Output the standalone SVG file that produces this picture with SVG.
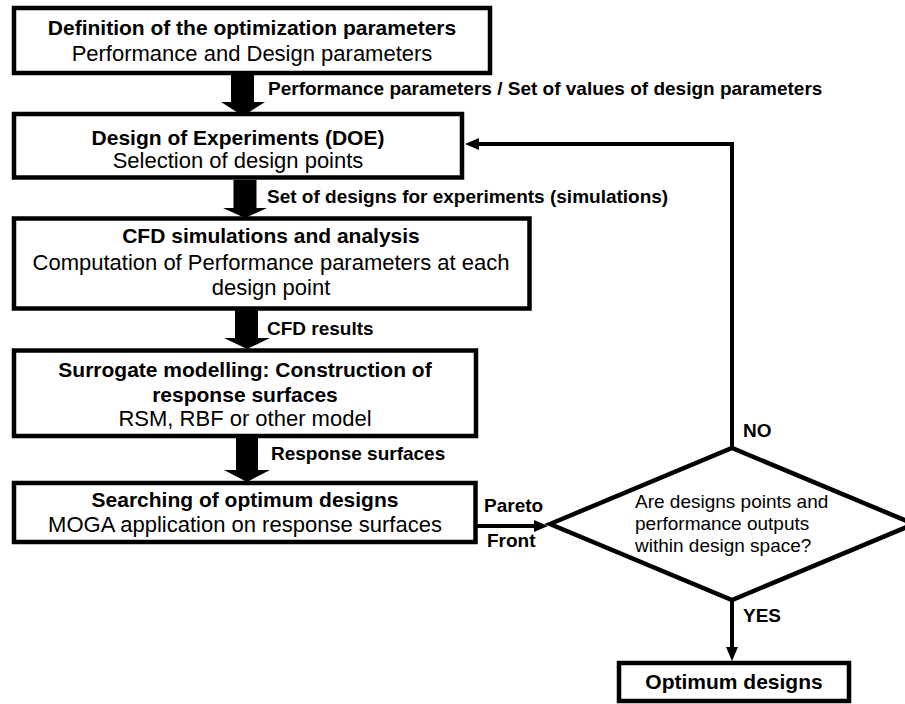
<svg xmlns="http://www.w3.org/2000/svg" width="905" height="704" viewBox="0 0 905 704">
<style>
.box{fill:#fff;stroke:#000;stroke-width:4.5}
.t{font-family:"Liberation Sans",Arial,sans-serif;font-weight:bold;font-size:21px;fill:#000;text-anchor:middle}
.b{font-family:"Liberation Sans",Arial,sans-serif;font-size:22px;fill:#000;text-anchor:middle}
.lbl{font-family:"Liberation Sans",Arial,sans-serif;font-weight:bold;font-size:19px;fill:#000}
.q{font-family:"Liberation Sans",Arial,sans-serif;font-size:19px;fill:#000}
.blk{fill:#000}
.ln{fill:none;stroke:#000;stroke-width:4}
</style>
<defs>
<marker id="ah" markerUnits="userSpaceOnUse" markerWidth="14" markerHeight="12" refX="4" refY="6" orient="auto">
<path d="M0,0 L14,6 L0,12 Z" fill="#000"/>
</marker>
</defs>
<rect width="905" height="704" fill="#fff"/>
<g id="n1">
<rect class="box" x="14" y="8" width="476" height="65"/>
<text class="t" x="252" y="35">Definition of the optimization parameters</text>
<text class="b" x="252" y="61">Performance and Design parameters</text>
</g>
<g id="n2">
<rect class="box" x="14" y="114" width="448" height="63.5"/>
<text class="t" x="238" y="145">Design of Experiments (DOE)</text>
<text class="b" x="238" y="168">Selection of design points</text>
</g>
<g id="n3">
<rect class="box" x="14" y="218.5" width="515.5" height="90"/>
<text class="t" x="271" y="243">CFD simulations and analysis</text>
<text class="b" x="271" y="270">Computation of Performance parameters at each</text>
<text class="b" x="271" y="295">design point</text>
</g>
<g id="n4">
<rect class="box" x="14" y="350.5" width="462" height="85.5"/>
<text class="t" x="245" y="377">Surrogate modelling: Construction of</text>
<text class="t" x="245" y="402">response surfaces</text>
<text class="b" x="245" y="426">RSM, RBF or other model</text>
</g>
<g id="n5">
<rect class="box" x="14" y="483" width="461.5" height="59"/>
<text class="t" x="245" y="507">Searching of optimum designs</text>
<text class="b" x="245" y="532">MOGA application on response surfaces</text>
</g>
<g id="n6">
<polygon class="box" points="550,524 732,448 914,524 732,600"/>
<text class="q" x="635" y="508">Are designs points and</text>
<text class="q" x="635" y="530">performance outputs</text>
<text class="q" x="635" y="552">within design space?</text>
</g>
<g id="n7">
<rect class="box" x="619" y="663" width="230" height="38"/>
<text class="t" x="734" y="689">Optimum designs</text>
</g>
<g id="connectors">
<polygon class="blk" points="231,75 254,75 254,102 265,102 243,116 221,102 231,102"/>
<polygon class="blk" points="233.5,180 256.5,180 256.5,208 267,208 245,218 223,208 233.5,208"/>
<polygon class="blk" points="235,310 258,310 258,338 270,338 247,349 224,338 235,338"/>
<polygon class="blk" points="236,437 258,437 258,470 270,470 247,482 224,470 236,470"/>
<path class="ln" d="M732,448 V144 H475" marker-end="url(#ah)"/>
<path class="ln" d="M477,526 H538" marker-end="url(#ah)"/>
<path class="ln" d="M732,600 V651" marker-end="url(#ah)"/>
<text class="lbl" x="268" y="95">Performance parameters / Set of values of design parameters</text>
<text class="lbl" x="267" y="203">Set of designs for experiments (simulations)</text>
<text class="lbl" x="267" y="335">CFD results</text>
<text class="lbl" x="271" y="460">Response surfaces</text>
<text class="lbl" x="484" y="512">Pareto</text>
<text class="lbl" x="487" y="547">Front</text>
<text class="lbl" x="743" y="437">NO</text>
<text class="lbl" x="743" y="622">YES</text>
</g>
</svg>
